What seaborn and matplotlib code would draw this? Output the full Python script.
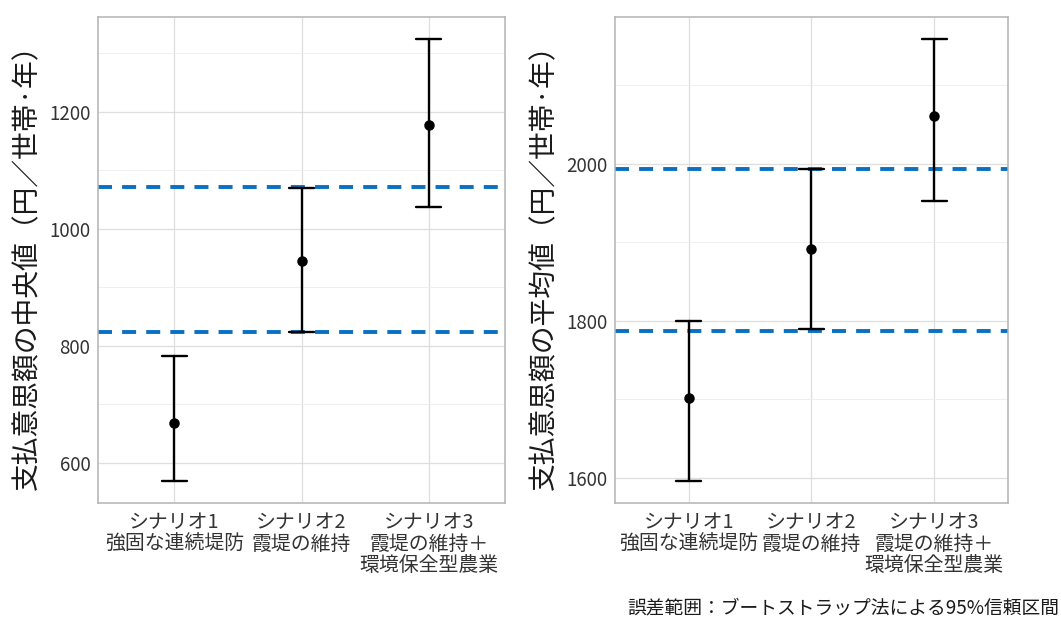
import pandas as pd
import matplotlib
matplotlib.use("Agg")
import matplotlib.pyplot as plt
import seaborn as sns
from matplotlib.ticker import MultipleLocator, AutoMinorLocator

# データ
scenarios = ["シナリオ1\n強固な連続堤防",
             "シナリオ2\n霞堤の維持",
             "シナリオ3\n霞堤の維持＋\n環境保全型農業"]

median_est = [668, 944, 1177]
median_low = [569, 823, 1036]
median_high = [783, 1070, 1324]
median_ref = [823, 1071]

mean_est = [1702, 1891, 2061]
mean_low = [1596, 1789, 1952]
mean_high = [1800, 1993, 2159]
mean_ref = [1787, 1993]

ylabel_median = "支払意思額の中央値（円／世帯·年）"
ylabel_mean = "支払意思額の平均値（円／世帯·年）"
caption = "誤差範囲：ブートストラップ法による95%信頼区間"

sns.set_style("white")
plt.rcParams['font.family'] = ['Noto Sans CJK JP', 'DejaVu Sans']

REF_COLOR = "#0a70c2"
TEXT_COLOR = "#333333"


def long_form(est, low, high):
    """推定値と信頼区間を1列に並べる（中央値=推定値, 範囲=区間）。"""
    rows = []
    for sc, e, lo, hi in zip(scenarios, est, low, high):
        for v in (lo, e, hi):
            rows.append({"scenario": sc, "value": v})
    return pd.DataFrame(rows)


def draw_panel(ax, est, low, high, ref, ylabel):
    df = long_form(est, low, high)
    for r in ref:
        ax.axhline(r, color=REF_COLOR, lw=2.8, linestyle=(0, (3.6, 2.6)), zorder=2)
    sns.pointplot(data=df, x="scenario", y="value", order=scenarios,
                  estimator="median", errorbar=("pi", 100), capsize=0.2,
                  color="black", marker="o", markersize=5.5, linestyle="none",
                  err_kws={"linewidth": 1.7}, ax=ax, zorder=3)

    lo, hi = min(low), max(high)
    pad = (hi - lo) * 0.05
    ax.set_ylim(lo - pad, hi + pad)
    ax.set_xlim(-0.6, len(scenarios) - 0.4)

    ax.yaxis.set_major_locator(MultipleLocator(200))
    ax.yaxis.set_minor_locator(AutoMinorLocator(2))
    ax.grid(True, which="major", color="#DEDEDE", lw=0.9)
    ax.grid(True, which="minor", axis="y", color="#EDEDED", lw=0.6)
    ax.set_axisbelow(True)

    for s in ax.spines.values():
        s.set_color("#B3B3B3")
        s.set_linewidth(1.1)

    ax.tick_params(axis="both", which="major", length=3.5, color="#B3B3B3",
                   labelcolor=TEXT_COLOR)
    ax.tick_params(axis="y", labelsize=13.5, pad=2)
    ax.tick_params(axis="x", labelsize=14.3, pad=3)
    ax.tick_params(which="minor", length=0)
    for t in ax.get_xticklabels():
        t.set_linespacing(1.05)

    ax.set_xlabel("")
    ax.set_ylabel(ylabel, fontsize=20, color="#1a1a1a", labelpad=5)


fig = plt.figure(figsize=(10.61, 6.17), dpi=100)
ax1 = fig.add_axes([0.0924, 0.185, 0.3836, 0.7877])
ax2 = fig.add_axes([0.5796, 0.185, 0.3704, 0.7877])

draw_panel(ax1, median_est, median_low, median_high, median_ref, ylabel_median)
draw_panel(ax2, mean_est, mean_low, mean_high, mean_ref, ylabel_mean)

fig.text(0.998, 0.032, caption, ha="right", va="top", fontsize=13.5, color="#1a1a1a")

fig.savefig("out.png", dpi=100)
plt.close(fig)
